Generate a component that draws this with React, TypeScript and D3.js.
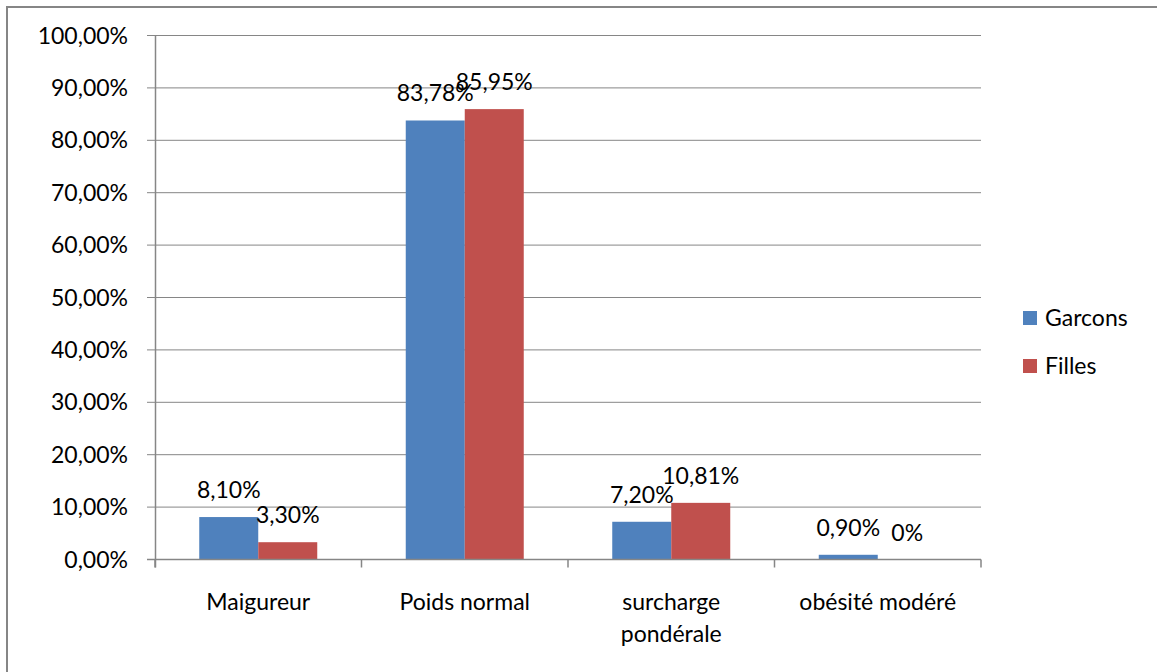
import React from "react";
import * as d3 from "d3";

// Weight-status categories and share of each group
const categories = ["Maigureur", "Poids normal", "surcharge pondérale", "obésité modéré"];
const categoryLines = [["Maigureur"], ["Poids normal"], ["surcharge", "pondérale"], ["obésité modéré"]];
const seriesNames = ["Garcons", "Filles"];
const garcons = [0.081, 0.8378, 0.072, 0.009];
const filles = [0.033, 0.8595, 0.1081, 0];
const garconsLabels = ["8,10%", "83,78%", "7,20%", "0,90%"];
const fillesLabels = ["3,30%", "85,95%", "10,81%", "0%"];
const yTicks = [0, 0.1, 0.2, 0.3, 0.4, 0.5, 0.6, 0.7, 0.8, 0.9, 1];
const yTickLabels = ["0,00%", "10,00%", "20,00%", "30,00%", "40,00%", "50,00%", "60,00%", "70,00%", "80,00%", "90,00%", "100,00%"];
const colors = ["#4F81BD", "#C0504D"];

const W = 1157;
const H = 672;
const FONT = "Lato, 'Open Sans', sans-serif";
const FS = 23;
const GRID = "#868686";

export default function App() {
  const x = d3.scaleBand<string>().domain(categories).range([155, 981]).paddingInner(0).paddingOuter(0);
  const xs = d3.scaleBand<string>().domain(seriesNames).range([0, x.bandwidth()]).paddingInner(0).paddingOuter(0.75);
  const y = d3.scaleLinear().domain([0, 1]).range([559.5, 35.5]);

  const series = [
    { name: seriesNames[0], values: garcons, labels: garconsLabels, color: colors[0] },
    { name: seriesNames[1], values: filles, labels: fillesLabels, color: colors[1] },
  ];

  const tickXs = [...categories.map((c) => x(c)!), x(categories[categories.length - 1])! + x.bandwidth()];

  return (
    <svg
      width={W}
      height={H}
      style={{ position: "absolute", left: 0, top: 0, background: "#fff" }}
      fontFamily={FONT}
    >
      <rect x={0} y={0} width={W} height={H} fill="#fff" />
      {/* chart frame */}
      <rect x={7} y={7} width={W + 20} height={H + 20} fill="none" stroke={GRID} strokeWidth={2} />

      {/* gridlines and y ticks */}
      {yTicks.map((t, i) => (
        <g key={"yt" + i}>
          <line x1={147} x2={981} y1={y(t)} y2={y(t)} stroke={GRID} strokeWidth={1} />
          <text x={128} y={y(t)} dy="0.35em" textAnchor="end" fontSize={FS} fill="#000">
            {yTickLabels[i]}
          </text>
        </g>
      ))}

      {/* bars */}
      {series.map((s) =>
        categories.map((c, i) => (
          <rect
            key={s.name + c}
            x={x(c)! + xs(s.name)!}
            y={y(s.values[i])}
            width={xs.bandwidth()}
            height={y(0) - y(s.values[i])}
            fill={s.color}
          />
        ))
      )}

      {/* axes */}
      <line x1={155.5} x2={155.5} y1={y(1)} y2={y(0) + 8} stroke={GRID} strokeWidth={1.5} />
      <line x1={147} x2={981} y1={y(0)} y2={y(0)} stroke={GRID} strokeWidth={1.5} />
      {tickXs.map((tx, i) => (
        <line key={"xt" + i} x1={tx} x2={tx} y1={y(0)} y2={y(0) + 8} stroke={GRID} strokeWidth={1.5} />
      ))}

      {/* value labels */}
      {series.map((s) =>
        categories.map((c, i) => (
          <text
            key={"lbl" + s.name + c}
            x={x(c)! + xs(s.name)! + xs.bandwidth() / 2}
            y={y(s.values[i]) - 19}
            textAnchor="middle"
            fontSize={FS}
            fill="#000"
          >
            {s.labels[i]}
          </text>
        ))
      )}

      {/* category labels */}
      {categories.map((c, i) => (
        <text key={"cat" + c} x={x(c)! + x.bandwidth() / 2} y={610} textAnchor="middle" fontSize={FS} fill="#000">
          {categoryLines[i].map((ln, j) => (
            <tspan key={j} x={x(c)! + x.bandwidth() / 2} dy={j === 0 ? 0 : 31.5}>
              {ln}
            </tspan>
          ))}
        </text>
      ))}

      {/* legend */}
      {series.map((s, i) => (
        <g key={"leg" + s.name} transform={`translate(1023, ${311 + i * 48})`}>
          <rect x={0} y={0} width={14} height={14} fill={s.color} />
          <text x={22} y={7} dy="0.35em" fontSize={FS} fill="#000">
            {s.name}
          </text>
        </g>
      ))}
    </svg>
  );
}
